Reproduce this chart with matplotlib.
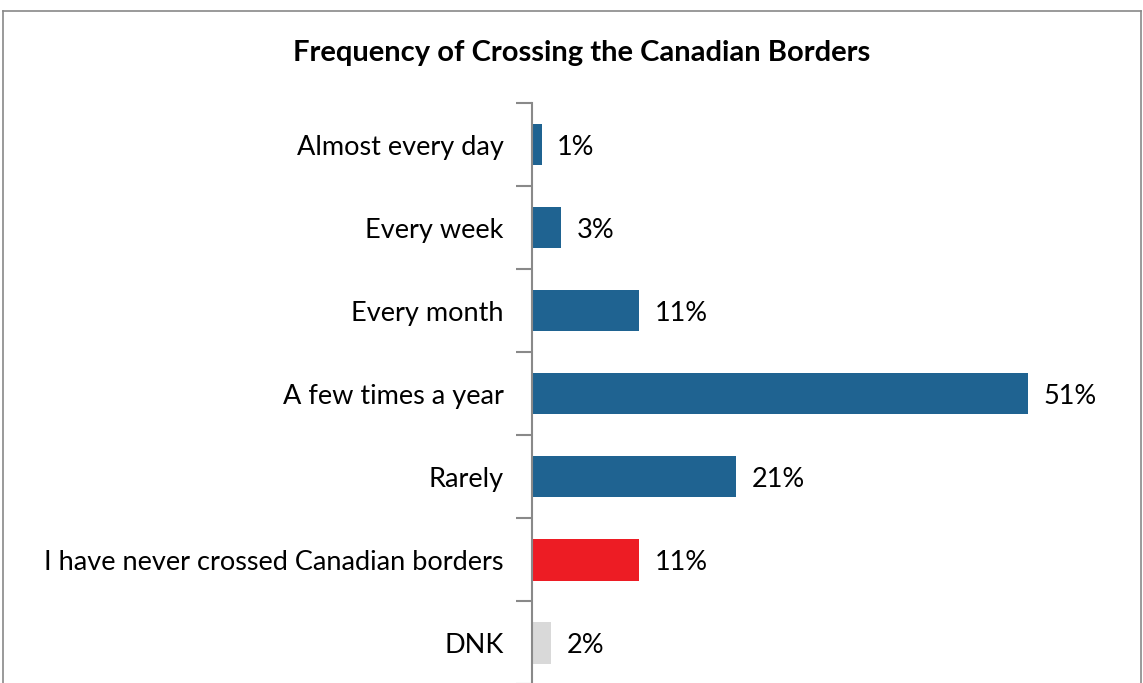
import numpy as np
import matplotlib.pyplot as plt
from matplotlib.lines import Line2D

plt.rcParams['font.family'] = ['Lato', 'DejaVu Sans']

categories = ["Almost every day", "Every week", "Every month", "A few times a year",
              "Rarely", "I have never crossed Canadian borders", "DNK"]
values = [1, 3, 11, 51, 21, 11, 2]
colors = ["#1F6391"] * 5 + ["#ED1C24", "#D9D9D9"]

fig = plt.figure(figsize=(11.43, 6.83), dpi=100)
ax = fig.add_axes([0.4654, -0.002, 0.5101, 0.8512])

y = np.arange(len(categories))
ax.barh(y, values, height=0.5, color=colors)
for yi, v in zip(y, values):
    ax.text(v + 1.6, yi, f"{v}%", va="center_baseline", ha="left", fontsize=19.5)

ax.set_xlim(0, 60)
ax.set_ylim(len(categories) - 0.5, -0.5)
ax.set_xticks([])
ax.set_yticks(y)
ax.set_yticklabels(categories, fontsize=19.5)
ax.tick_params(axis="y", which="major", length=0, pad=20.5)
ax.set_yticks(np.arange(len(categories) + 1) - 0.5, minor=True)
ax.tick_params(axis="y", which="minor", length=11.5, width=1.5, color="#898989")

for side in ["top", "right", "bottom"]:
    ax.spines[side].set_visible(False)
ax.spines["left"].set_color("#898989")
ax.spines["left"].set_linewidth(1.5)

fig.text(0.509, 0.922, "Frequency of Crossing the Canadian Borders",
         ha="center", va="center", fontsize=21, fontweight="bold")

# outer chart frame
frame_kw = dict(color="#898989", linewidth=1.2, transform=fig.transFigure)
fig.add_artist(Line2D([0.003, 0.003], [0, 0.984], **frame_kw))
fig.add_artist(Line2D([0.003, 0.998], [0.984, 0.984], **frame_kw))
fig.add_artist(Line2D([0.998, 0.998], [0, 0.984], **frame_kw))

fig.savefig("out.png", dpi=100)
